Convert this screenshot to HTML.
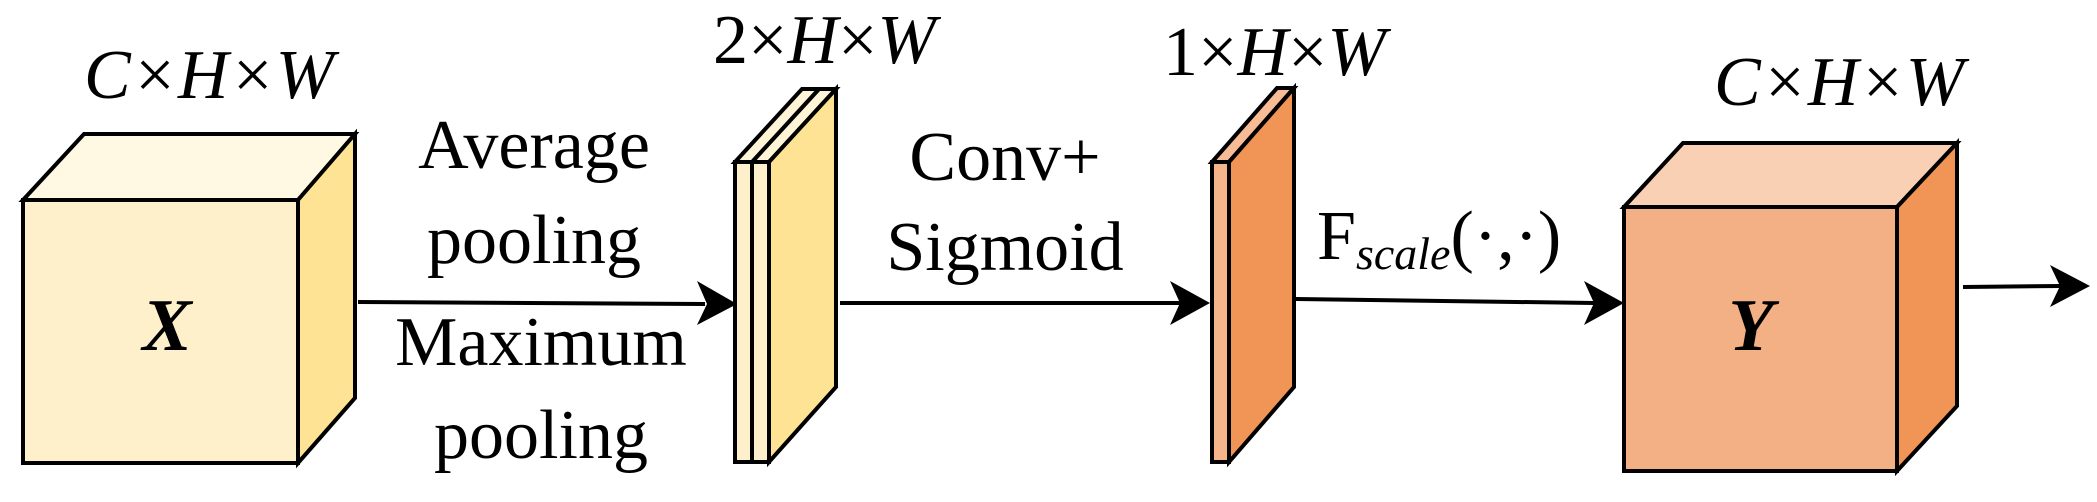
<!DOCTYPE html>
<html><head><meta charset="utf-8"><style>
html,body{margin:0;padding:0;background:#fff;}
svg{display:block;}
text{font-family:"Liberation Serif",serif;fill:#000;}
</style></head><body>
<svg width="2097" height="502" viewBox="0 0 2097 502" xmlns="http://www.w3.org/2000/svg">
<g stroke="#000" stroke-width="4" stroke-linejoin="miter">
<!-- Cube X -->
<polygon points="23,200 84,134 355,134 298,200" fill="#FFF8E3"/>
<polygon points="298,200 355,134 355,398 298,463" fill="#FFE395"/>
<rect x="23" y="200" width="275" height="263" fill="#FEF0CB"/>
<!-- Slab 2 -->
<polygon points="752,162 819,89 836,89 769,162" fill="#FFF4D6"/>
<polygon points="735,162 802,89 819,89 752,162" fill="#FFF4D6"/>
<polygon points="769,162 836,89 836,387 769,462" fill="#FFE395"/>
<rect x="735" y="162" width="17" height="300" fill="#FEF0CB"/>
<rect x="752" y="162" width="17" height="300" fill="#FEF0CB"/>
<!-- Slab 3 -->
<polygon points="1212,162 1277,88 1294,88 1229,162" fill="#F7BC95"/>
<polygon points="1229,162 1294,88 1294,387 1229,462" fill="#F09556"/>
<rect x="1212" y="162" width="17" height="300" fill="#F5B48A"/>
<!-- Cube Y -->
<polygon points="1624,207 1683,143 1957,143 1897,207" fill="#F9D0B4"/>
<polygon points="1897,207 1957,143 1957,406 1897,471" fill="#F09556"/>
<rect x="1624" y="207" width="273" height="264" fill="#F2B084"/>
</g>
<!-- arrows -->
<g stroke="#000" stroke-width="4" fill="none">
<line x1="358" y1="302" x2="705" y2="304"/>
<line x1="840" y1="303" x2="1180" y2="303"/>
<line x1="1296" y1="299" x2="1594" y2="303"/>
<line x1="1963" y1="287" x2="2060" y2="286"/>
</g>
<g fill="#000">
<polygon points="737,304 697,281 707,304 697,325"/>
<polygon points="1210,303 1170,281 1180,303 1170,325"/>
<polygon points="1624,303 1584,281 1594,303 1584,325"/>
<polygon points="2090,286 2050,265 2060,286 2050,307"/>
</g>
<!-- labels -->
<g font-size="70">
<text x="84" y="98" font-style="italic">C×H×W</text>
<text x="713" y="63"><tspan>2×</tspan><tspan font-style="italic">H</tspan>×<tspan font-style="italic">W</tspan></text>
<text x="1163" y="75"><tspan>1×</tspan><tspan font-style="italic">H</tspan>×<tspan font-style="italic">W</tspan></text>
<text x="1714" y="105" font-style="italic">C×H×W</text>
<text x="534" y="168" text-anchor="middle">Average</text>
<text x="534" y="263" text-anchor="middle">pooling</text>
<text x="541" y="365" text-anchor="middle">Maximum</text>
<text x="541" y="458" text-anchor="middle">pooling</text>
<text x="1005" y="180" text-anchor="middle">Conv+</text>
<text x="1005" y="270" text-anchor="middle">Sigmoid</text>
<text x="1317" y="259">F<tspan font-size="46" font-style="italic" dy="10">scale</tspan><tspan dy="-10">(·,·)</tspan></text>
<text x="167" y="350" text-anchor="middle" font-style="italic" font-weight="bold" font-size="74">X</text>
<text x="1751" y="350" text-anchor="middle" font-style="italic" font-weight="bold" font-size="74">Y</text>
</g>
</svg>
</body></html>
